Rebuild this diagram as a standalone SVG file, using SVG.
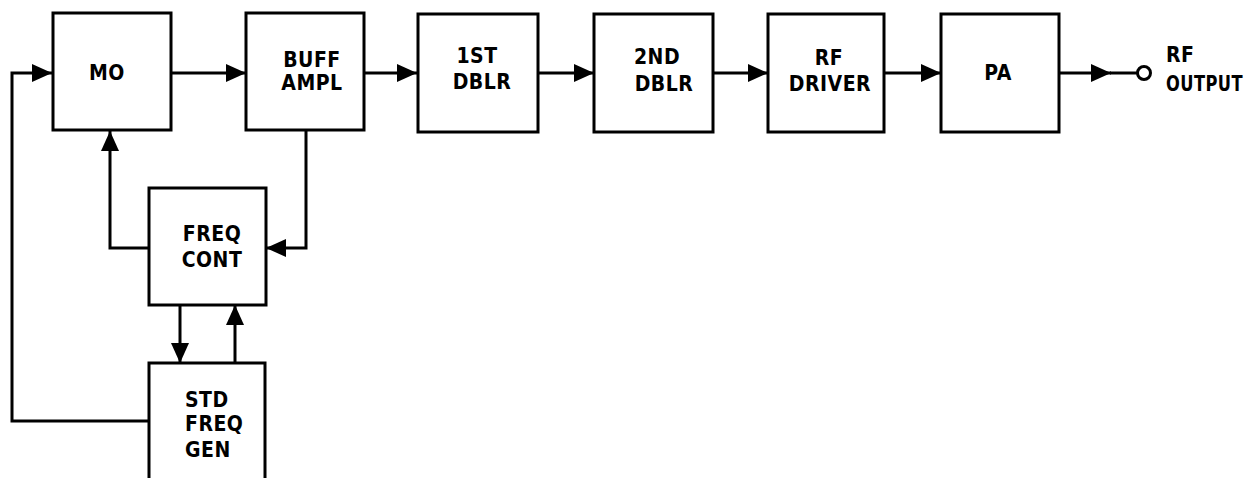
<svg xmlns="http://www.w3.org/2000/svg" width="1257" height="478" viewBox="0 0 1257 478">
<style>
.box{fill:#fff;stroke:#000;stroke-width:3}
.ln{fill:none;stroke:#000;stroke-width:3}
text{font-family:"DejaVu Sans Condensed","DejaVu Sans",sans-serif;font-weight:bold;font-size:21px;letter-spacing:0.5px;fill:#000}
.c{text-anchor:middle}
</style>
<defs>
<marker id="ah" viewBox="0 0 20 18" refX="20" refY="9" markerWidth="20" markerHeight="18" markerUnits="userSpaceOnUse" orient="auto">
<path d="M0,0 L20,9 L0,18 z" fill="#000"/>
</marker>
</defs>
<rect width="1257" height="478" fill="#fff"/>
<g id="connectors">
<path class="ln" d="M149,421 H12 V73 H52" marker-end="url(#ah)"/>
<path class="ln" d="M172,73 H246" marker-end="url(#ah)"/>
<path class="ln" d="M364,73 H417" marker-end="url(#ah)"/>
<path class="ln" d="M538,73 H594" marker-end="url(#ah)"/>
<path class="ln" d="M713,73 H768" marker-end="url(#ah)"/>
<path class="ln" d="M884,73 H941" marker-end="url(#ah)"/>
<path class="ln" d="M1059,73 H1111" marker-end="url(#ah)"/>
<path class="ln" d="M1110,73 H1137"/>
<circle cx="1144" cy="73" r="6.5" fill="#fff" stroke="#000" stroke-width="3"/>
<path class="ln" d="M149,248 H110 V131" marker-end="url(#ah)"/>
<path class="ln" d="M306,131 V248 H266" marker-end="url(#ah)"/>
<path class="ln" d="M180,305 V363" marker-end="url(#ah)"/>
<path class="ln" d="M235,363 V305" marker-end="url(#ah)"/>
</g>
<g id="mo"><rect class="box" x="53" y="13" width="118" height="117"/><text class="c" x="107" y="80">MO</text></g>
<g id="buff"><rect class="box" x="246" y="13" width="118" height="117"/><text class="c" x="312" y="67">BUFF</text><text class="c" x="312" y="90">AMPL</text></g>
<g id="dblr1"><rect class="box" x="418" y="14" width="120" height="118"/><text class="c" x="477" y="63">1ST</text><text class="c" x="482" y="89">DBLR</text></g>
<g id="dblr2"><rect class="box" x="594" y="14" width="119" height="118"/><text class="c" x="657" y="64">2ND</text><text class="c" x="664" y="91">DBLR</text></g>
<g id="driver"><rect class="box" x="768" y="14" width="116" height="118"/><text class="c" x="829" y="65">RF</text><text class="c" x="830" y="91">DRIVER</text></g>
<g id="pa"><rect class="box" x="941" y="14" width="118" height="118"/><text class="c" x="998" y="80">PA</text></g>
<g id="out"><text x="1166" y="62">RF</text><text x="1166" y="91" textLength="77" lengthAdjust="spacingAndGlyphs">OUTPUT</text></g>
<g id="freqcont"><rect class="box" x="149" y="188" width="117" height="117"/><text class="c" x="212" y="241">FREQ</text><text class="c" x="212" y="267">CONT</text></g>
<g id="stdgen"><rect class="box" x="149" y="363" width="116" height="130"/><text x="185" y="407">STD</text><text x="185" y="431">FREQ</text><text x="185" y="457">GEN</text></g>
</svg>
